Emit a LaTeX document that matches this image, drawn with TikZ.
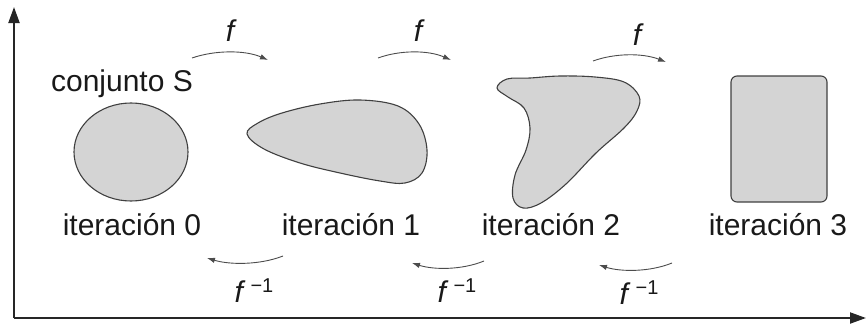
\documentclass[tikz,border=0pt]{standalone}
\usepackage{fontspec}
\setmainfont{Liberation Sans}
\usetikzlibrary{arrows.meta}
\tikzset{
  axisline/.style={line width=2pt, black!85, -{Triangle[length=16pt,width=11pt]}},
  setshape/.style={draw=black!75, line width=1.1pt, fill=black!17},
  maparrow/.style={draw=black!70, line width=0.9pt, -{Latex[length=8pt,width=5.5pt]}},
  lbl/.style={font=\fontsize{30}{35}\selectfont, inner sep=0pt, text=black!90},
  flbl/.style={font=\fontsize{30}{35}\selectfont\itshape, inner sep=0pt, text=black!90}
}
\newcommand{\finv}{\textit{f}\,\raisebox{10pt}{\upshape\fontsize{20}{24}\selectfont −1}}
\begin{document}
\begin{tikzpicture}[x=1pt,y=-1pt]
\useasboundingbox (0,0) rectangle (867,332);
% axes
\coordinate (O) at (14,318);
\coordinate (Ytop) at (14,7);
\coordinate (Xend) at (866,318);
\draw[axisline] (O) -- (Ytop);
\draw[axisline] (O) -- (Xend);
% shapes
\draw[setshape] (131,152) ellipse [x radius=57, y radius=49];
\draw[setshape] plot[smooth cycle, tension=0.6] coordinates {
  (247,134) (258,123) (282,113) (320,104) (360,100) (398,106) (419,124)
  (427,150) (422,173) (405,183) (380,181) (340,173) (300,163) (264,149)};
\draw[setshape] plot[smooth cycle, tension=0.6] coordinates {
  (497,88) (507,79) (530,78) (560,76) (595,77) (624,82) (639,96) (637,111)
  (624,128) (596,153) (566,184) (541,203) (523,208) (513,198) (515,175)
  (526,150) (530,128) (524,108) (508,97)};
\draw[setshape, rounded corners=6pt] (731,76) rectangle (827,202);
% labels
\node[lbl] (cs) at (122,84) {conjunto S};
\node[lbl] (it0) at (132,225) {iteración 0};
\node[lbl] (it1) at (351,225) {iteración 1};
\node[lbl] (it2) at (551,225) {iteración 2};
\node[lbl] (it3) at (778,225) {iteración 3};
% forward arrows
\coordinate (a1s) at (192,58); \coordinate (a1e) at (268,60);
\coordinate (a2s) at (378,58); \coordinate (a2e) at (451,60);
\coordinate (a3s) at (593,61); \coordinate (a3e) at (666,62);
\draw[maparrow] (a1s) .. controls (215,50) and (245,50) .. (a1e);
\draw[maparrow] (a2s) .. controls (400,50) and (428,50) .. (a2e);
\draw[maparrow] (a3s) .. controls (615,53) and (643,53) .. (a3e);
\node[flbl] (f1) at (230,31) {f};
\node[flbl] (f2) at (418,31) {f};
\node[flbl] (f3) at (637,35) {f};
% backward arrows
\coordinate (b1s) at (283,256); \coordinate (b1e) at (207,258);
\coordinate (b2s) at (484,261); \coordinate (b2e) at (412,263);
\coordinate (b3s) at (672,263); \coordinate (b3e) at (599,265);
\draw[maparrow] (b1s) .. controls (260,265) and (230,265) .. (b1e);
\draw[maparrow] (b2s) .. controls (462,270) and (434,270) .. (b2e);
\draw[maparrow] (b3s) .. controls (650,272) and (621,272) .. (b3e);
\node[lbl] (g1) at (254,291) {\finv};
\node[lbl] (g2) at (457,291) {\finv};
\node[lbl] (g3) at (639,293) {\finv};
\end{tikzpicture}
\end{document}
